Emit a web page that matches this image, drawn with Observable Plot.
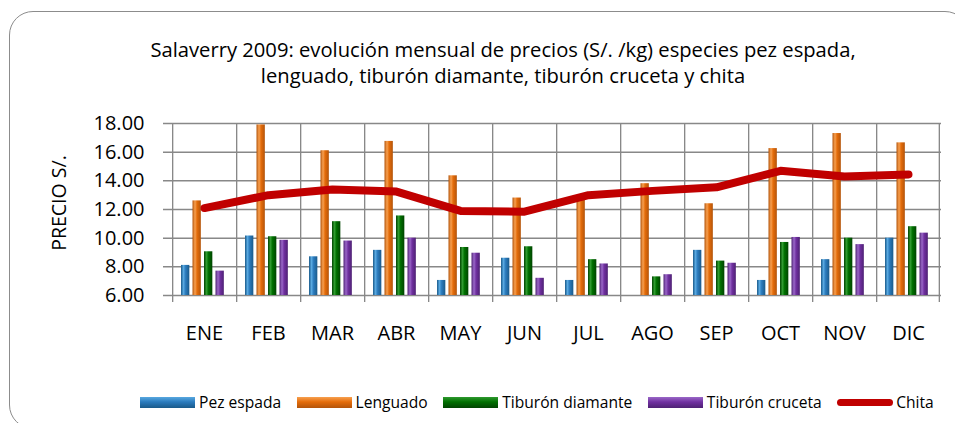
<!DOCTYPE html>
<html>
<head>
<meta charset="utf-8">
<script src="https://cdn.jsdelivr.net/npm/d3@7"></script>
<script src="https://cdn.jsdelivr.net/npm/@observablehq/plot@0.6"></script>
<style>
  body { margin: 0; background: #fff; font-family: "Open Sans", sans-serif; }
  #wrap { position: relative; width: 955px; height: 423px; overflow: hidden; background: #fff; }
  #frame { position: absolute; left: 9px; top: 11px; width: 960px; height: 418px; border: 1.5px solid #8c8c8c; border-radius: 24px; box-sizing: border-box; }
  #title { position: absolute; left: 0; top: 36px; width: 1006px; text-align: center; font-size: 20.2px; line-height: 26px; color: #000; }
  #chart { position: absolute; left: 0; top: 0; }
  #ylabel { position: absolute; left: 58px; top: 203px; transform: translate(-50%, -50%) rotate(-90deg); font-size: 19.5px; color: #000; white-space: nowrap; }
  #legend { position: absolute; left: 140px; top: 391px; display: flex; align-items: center; font-size: 15.6px; color: #000; white-space: nowrap; }
  .item { display: flex; align-items: center; margin-right: 15.5px; }
  .sw { width: 55px; height: 11px; margin-right: 4px; }
  .ln { width: 56px; height: 7px; border-radius: 4px; background: #c00000; margin-right: 3px; }
</style>
</head>
<body>
<div id="wrap">
  <div id="frame"></div>
  <div id="title">Salaverry 2009: evolución mensual de precios (S/. /kg) especies pez espada,<br>lenguado, tiburón diamante, tiburón cruceta y chita</div>
  <div id="chart"></div>
  <div id="ylabel">PRECIO S/.</div>
  <div id="legend"></div>
</div>
<script>
const months = ["ENE","FEB","MAR","ABR","MAY","JUN","JUL","AGO","SEP","OCT","NOV","DIC"];
const pezEspada       = [8.1, 10.15, 8.7, 9.15, 7.05, 8.6, 7.05, null, 9.15, 7.05, 8.5, 10.0];
const lenguado        = [12.6, 17.9, 16.1, 16.75, 14.35, 12.8, 12.75, 13.8, 12.4, 16.25, 17.3, 16.65];
const tiburonDiamante = [9.05, 10.1, 11.15, 11.55, 9.35, 9.4, 8.5, 7.3, 8.4, 9.7, 10.0, 10.8];
const tiburonCruceta  = [7.7, 9.85, 9.8, 10.0, 8.95, 7.2, 8.2, 7.45, 8.25, 10.05, 9.55, 10.35];
const chita           = [12.1, 13.0, 13.4, 13.25, 11.9, 11.85, 13.0, 13.3, 13.55, 14.7, 14.3, 14.45];
const yTicks = [6, 8, 10, 12, 14, 16, 18];
const seriesNames = ["Pez espada", "Lenguado", "Tiburón diamante", "Tiburón cruceta", "Chita"];

const gridColor = "#888888";
const W = 955, H = 360, ML = 171, MR = 14, MT = 123, MB = 65;
const bw = (W - ML - MR) / months.length;
const barW = 8.5;
const offsets = [9, 20.5, 32, 43.5];
const grads = [
  {id: "gBlue",   edge: "#1a5a8a", mid: "#2b7bbd", hi: "#58a8e0"},
  {id: "gOrange", edge: "#b3540a", mid: "#e46c0a", hi: "#f7a050"},
  {id: "gGreen",  edge: "#004400", mid: "#006f00", hi: "#2f9a2f"},
  {id: "gPurple", edge: "#4e2174", mid: "#7030a0", hi: "#9a68c8"}
];
const seriesVals = [pezEspada, lenguado, tiburonDiamante, tiburonCruceta];

const barMarks = seriesVals.map((vals, k) => {
  const rows = months.map((m, i) => ({month: m, v: vals[i]})).filter(d => d.v != null);
  return Plot.barY(rows, {
    x: "month", y1: 6, y2: "v",
    fill: `url(#${grads[k].id})`,
    insetLeft: offsets[k], insetRight: bw - offsets[k] - barW
  });
});

const chitaRows = months.map((m, i) => ({month: m, v: chita[i]}));

const plot = Plot.plot({
  width: W, height: H,
  marginLeft: ML, marginRight: MR, marginTop: MT, marginBottom: MB,
  style: {fontFamily: "Open Sans, sans-serif", fontSize: "20px", color: "#000", background: "transparent"},
  x: {domain: months, padding: 0, tickSize: 0, tickPadding: 30, label: null},
  y: {domain: [6, 18], ticks: yTicks, tickFormat: d => d.toFixed(2), tickSize: 0, tickPadding: 27, label: null},
  marks: [
    Plot.ruleY(yTicks, {stroke: gridColor, strokeWidth: 1.5, insetLeft: -8}),
    Plot.barY(months, {x: d => d, y1: 6, y2: 18, fill: gridColor, insetRight: bw - 1.5, insetBottom: -7}),
    Plot.barY(months.slice(-1), {x: d => d, y1: 6, y2: 18, fill: gridColor, insetLeft: bw - 1.5, insetBottom: -7}),
    ...barMarks,
    Plot.line(chitaRows, {x: "month", y: "v", stroke: "#c00000", strokeWidth: 8, strokeLinecap: "round", strokeLinejoin: "round"})
  ]
});

// gradient defs
const ns = "http://www.w3.org/2000/svg";
const defs = document.createElementNS(ns, "defs");
grads.forEach(g => {
  const lg = document.createElementNS(ns, "linearGradient");
  lg.setAttribute("id", g.id);
  lg.setAttribute("x1", "0"); lg.setAttribute("x2", "1"); lg.setAttribute("y1", "0"); lg.setAttribute("y2", "0");
  [[0, g.edge], [0.3, g.hi], [0.55, g.mid], [1, g.edge]].forEach(([o, c]) => {
    const s = document.createElementNS(ns, "stop");
    s.setAttribute("offset", o); s.setAttribute("stop-color", c);
    lg.appendChild(s);
  });
  defs.appendChild(lg);
});
plot.insertBefore(defs, plot.firstChild);
document.getElementById("chart").appendChild(plot);

// legend
const legend = document.getElementById("legend");
seriesNames.forEach((name, k) => {
  const it = document.createElement("div");
  it.className = "item";
  const sw = document.createElement("span");
  if (k < 4) {
    const g = grads[k];
    sw.className = "sw";
    sw.style.background = `linear-gradient(to bottom, ${g.hi} 0%, ${g.mid} 45%, ${g.edge} 100%)`;
  } else {
    sw.className = "ln";
  }
  const tx = document.createElement("span");
  tx.textContent = name;
  it.appendChild(sw); it.appendChild(tx);
  legend.appendChild(it);
});
</script>
</body>
</html>
